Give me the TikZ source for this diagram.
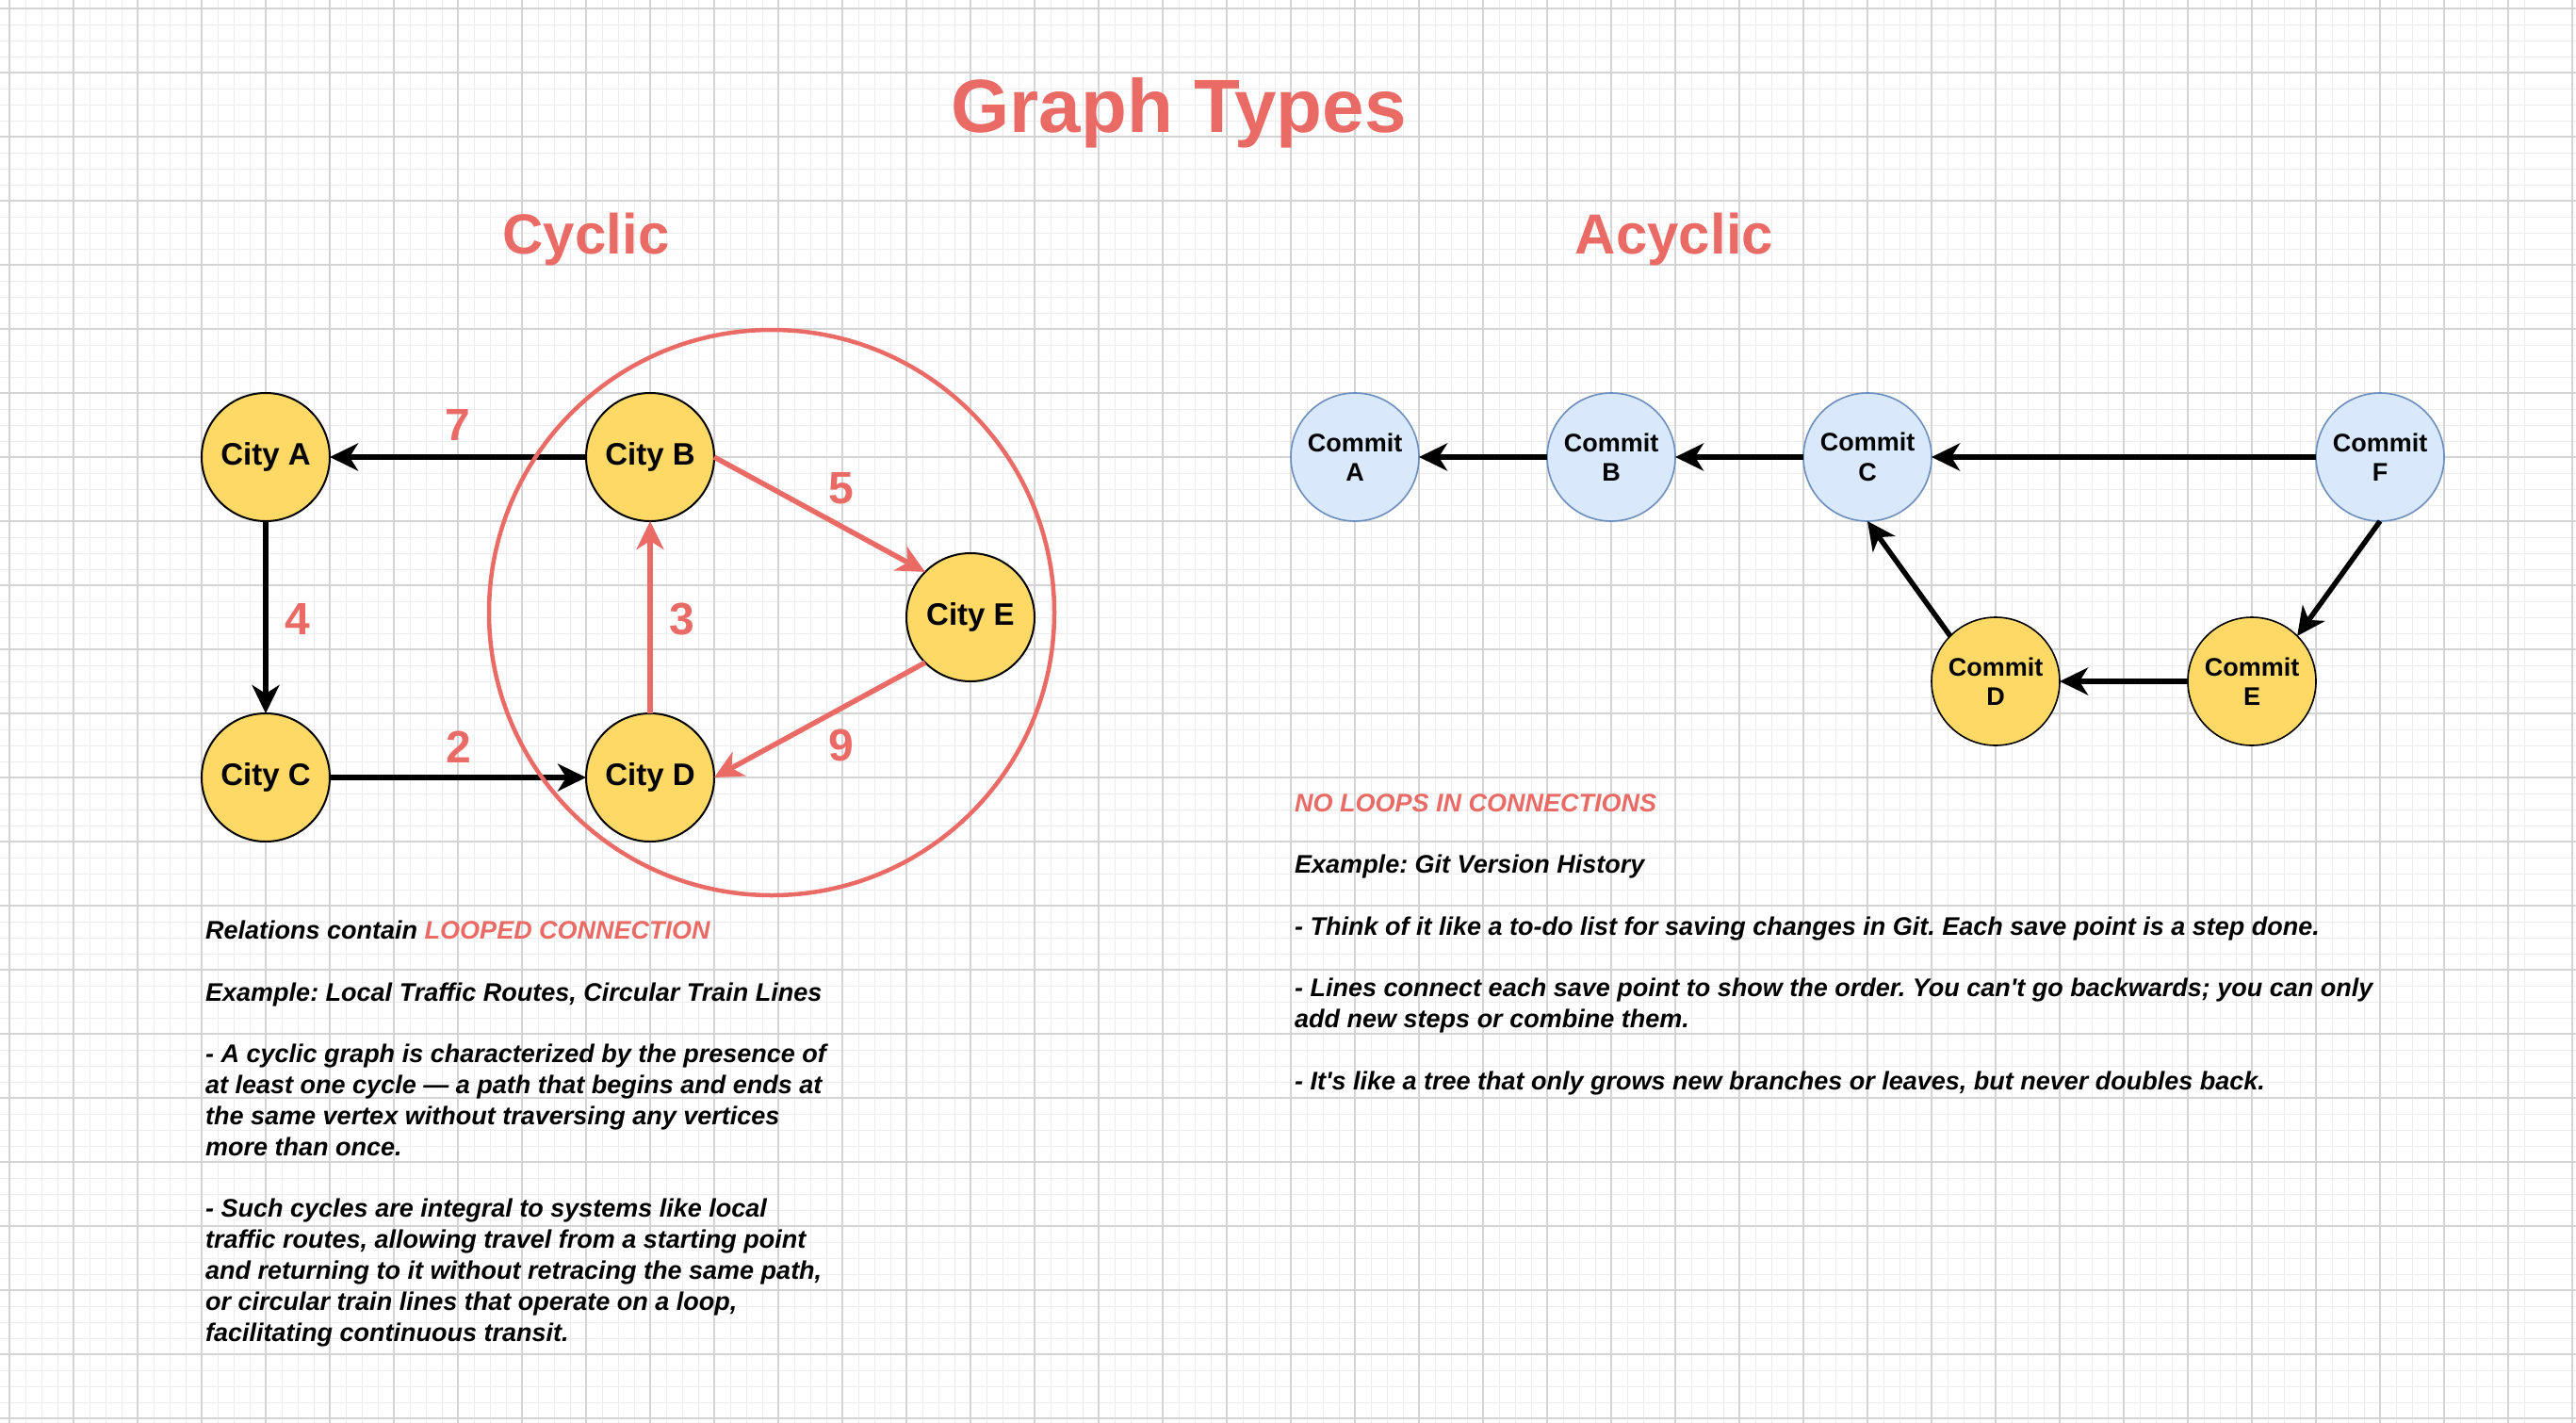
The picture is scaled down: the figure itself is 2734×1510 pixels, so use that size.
\documentclass[tikz,border=0pt]{standalone}
\usepackage{fontspec}
\setmainfont{Liberation Sans}
\usetikzlibrary{arrows.meta}
\definecolor{gred}{HTML}{EA6B66}
\definecolor{gyellow}{HTML}{FFD966}
\definecolor{gblue}{HTML}{DAE8FC}
\definecolor{gbluedraw}{HTML}{6C8EBF}
\frenchspacing
\begin{document}
\begin{tikzpicture}[x=1pt,y=-1pt,
  city/.style={circle, draw=black, line width=2pt, fill=gyellow, minimum size=136pt, inner sep=0pt, outer sep=0pt, font=\fontsize{33}{38}\selectfont\bfseries},
  commitblue/.style={circle, draw=gbluedraw, line width=1.6pt, fill=gblue, minimum size=136pt, inner sep=0pt, outer sep=0pt, align=center, font=\fontsize{27}{31.5}\selectfont\bfseries},
  commityel/.style={commitblue, draw=black, fill=gyellow},
  blackedge/.style={line width=5.5pt, -{Stealth[length=30pt,width=29pt,inset=9pt]}},
  rededge/.style={blackedge, draw=gred},
  wlabel/.style={text=gred, inner sep=0pt, font=\fontsize{48}{52}\selectfont\bfseries},
  heading/.style={text=gred, anchor=base, inner sep=0pt, font=\fontsize{60}{66}\selectfont\bfseries},
  bodytext/.style={align=left, anchor=north west, inner sep=0pt, font=\fontsize{27}{32.8}\selectfont\bfseries\itshape},
  minorgrid/.style={draw=black!7, line width=1pt},
  majorgrid/.style={draw=black!17, line width=1.3pt},
]
\useasboundingbox (0,0) rectangle (2734,1510);
\fill[white] (0,0) rectangle (2734,1510);
% grid
\foreach \i in {0,...,161} { \draw[minorgrid] ({10+17*\i-68},0) -- ({10+17*\i-68},1510); }
\foreach \j in {0,...,89} { \draw[minorgrid] (0,{9+17*\j-17}) -- (2734,{9+17*\j-17}); }
\foreach \i in {0,...,40} { \draw[majorgrid] ({10+68*\i},0) -- ({10+68*\i},1510); }
\foreach \j in {0,...,22} { \draw[majorgrid] (0,{9+68*\j}) -- (2734,{9+68*\j}); }

% titles
\node[text=gred, anchor=base, inner sep=0pt, font=\fontsize{80}{90}\selectfont\bfseries] (title) at (1251,140) {Graph Types};
\node[heading] (cyc) at (622,269) {Cyclic};
\node[heading] (acyc) at (1777,269) {Acyclic};

% cyclic graph
\node[city] (cA) at (282,485) {City A};
\node[city] (cB) at (690,485) {City B};
\node[city] (cC) at (282,825) {City C};
\node[city] (cD) at (690,825) {City D};
\node[city] (cE) at (1030,655) {City E};

\draw[blackedge] (cB) -- (cA);
\draw[blackedge] (cA) -- (cC);
\draw[blackedge] (cC) -- (cD);
\draw[rededge] (cD) -- (cB);
\draw[rededge] (cB.east) -- (cE.135);
\draw[rededge] (cE.225) -- (cD.east);

\node[wlabel] (l7) at (486,451) {7};
\node[wlabel] (l4) at (316,657) {4};
\node[wlabel] (l2) at (487,793) {2};
\node[wlabel] (l3) at (724,657) {3};
\node[wlabel] (l5) at (893,518) {5};
\node[wlabel] (l9) at (893,791) {9};

\node[circle, draw=gred, line width=4.5pt, minimum size=600pt, inner sep=0pt] (loop) at (819,650) {};

% acyclic graph
\node[commitblue] (kA) at (1438,485) {Commit\\A};
\node[commitblue] (kB) at (1710,485) {Commit\\B};
\node[commitblue] (kC) at (1982,485) {Commit\\C};
\node[commitblue] (kF) at (2526,485) {Commit\\F};
\node[commityel] (kD) at (2118,723) {Commit\\D};
\node[commityel] (kE) at (2390,723) {Commit\\E};

\draw[blackedge] (kB) -- (kA);
\draw[blackedge] (kC) -- (kB);
\draw[blackedge] (kF) -- (kC);
\draw[blackedge] (kF.south) -- (kE.45);
\draw[blackedge] (kE) -- (kD);
\draw[blackedge] (kD.135) -- (kC.south);

% texts
\node[bodytext] (lefttext) at (218,977) {Relations contain \textcolor{gred}{LOOPED CONNECTION}\\[32.8pt]
Example: Local Traffic Routes, Circular Train Lines\\[32.8pt]
- A cyclic graph is characterized by the presence of\\
at least one cycle — a path that begins and ends at\\
the same vertex without traversing any vertices\\
more than once.\\[32.8pt]
- Such cycles are integral to systems like local\\
traffic routes, allowing travel from a starting point\\
and returning to it without retracing the same path,\\
or circular train lines that operate on a loop,\\
facilitating continuous transit.};

\node[bodytext] (righttext) at (1374,842) {\textcolor{gred}{NO LOOPS IN CONNECTIONS}\\[32.8pt]
Example: Git Version History\\[32.8pt]
- Think of it like a to-do list for saving changes in Git. Each save point is a step done.\\[32.8pt]
- Lines connect each save point to show the order. You can\textquotesingle t go backwards; you can only\\
add new steps or combine them.\\[32.8pt]
- It\textquotesingle s like a tree that only grows new branches or leaves, but never doubles back.};
\end{tikzpicture}
\end{document}
